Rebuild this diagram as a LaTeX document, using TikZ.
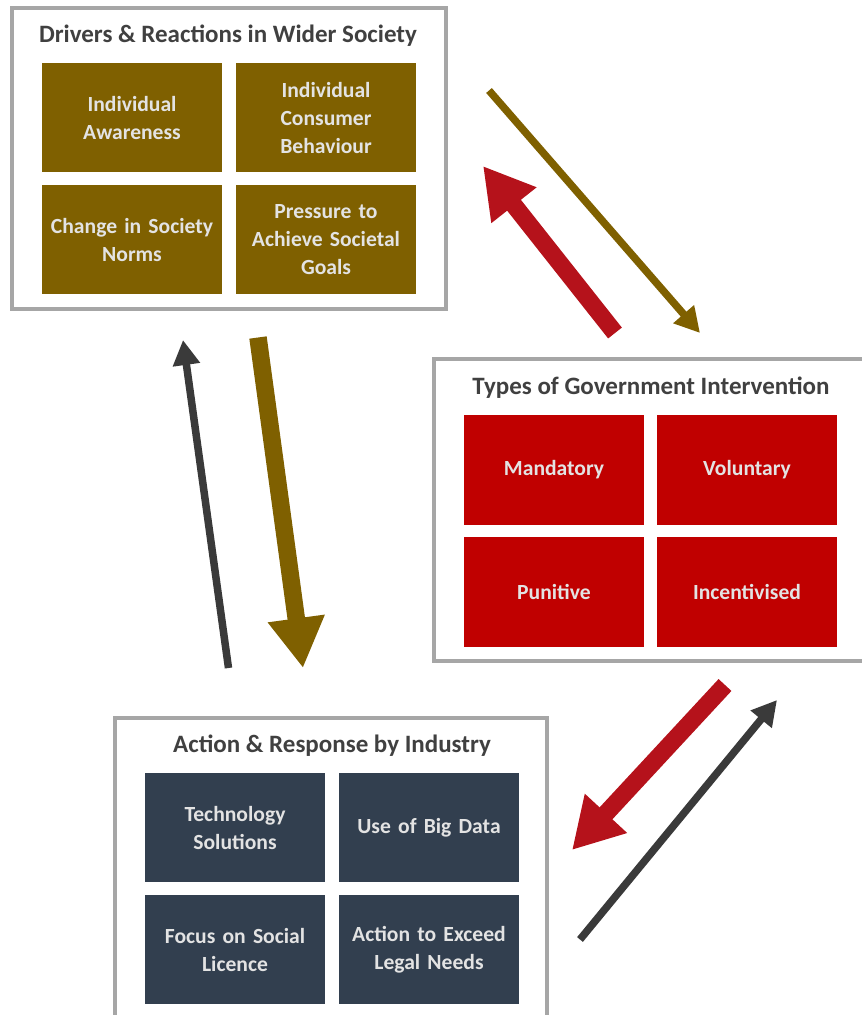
\documentclass[tikz,border=0pt]{standalone}
\usepackage{fontspec}
\setmainfont{Carlito}
\usetikzlibrary{arrows.meta}
\definecolor{olivebrown}{HTML}{7F6000}
\definecolor{govred}{HTML}{C00000}
\definecolor{arrowred}{HTML}{B5121B}
\definecolor{slatenavy}{HTML}{323F4F}
\definecolor{framegray}{HTML}{A6A6A6}
\definecolor{darkarrow}{HTML}{3A3A3A}
\definecolor{tiletext}{HTML}{E3E3E3}
\definecolor{titletext}{HTML}{404040}
\tikzset{
  frame/.style={draw=framegray, line width=4pt, fill=white, inner sep=0pt},
  tile/.style={minimum width=180pt, minimum height=109pt, inner sep=0pt,
    text width=178pt, align=center, text=tiletext,
    font=\fontsize{21.6}{28}\selectfont\bfseries},
  boxtitle/.style={text=titletext, inner sep=0pt,
    font=\fontsize{25}{28}\selectfont\bfseries},
  thinarrow/.style={line width=7.5pt, -{Triangle[width=26pt,length=25pt]}},
  thickarrow/.style={line width=17.5pt, -{Triangle[width=54pt,length=50pt]}},
}
\begin{document}
\begin{tikzpicture}[x=1pt,y=-1pt]
  \useasboundingbox (0,0) rectangle (862,1015);
  % the three panels
  \node[frame, minimum width=434pt, minimum height=300.5pt] (society) at (228.75,158.25) {};
  \node[frame, minimum width=430.5pt, minimum height=302pt] (govt) at (648.75,509.5) {};
  \node[frame, minimum width=432.3pt, minimum height=302pt] (industry) at (330.85,869) {};
  \node[boxtitle] (society-t) at (228,35.5) {Drivers \& Reactions in Wider Society};
  \node[boxtitle] (govt-t) at (651,387.5) {Types of Government Intervention};
  \node[boxtitle] (industry-t) at (332,745.5) {Action \& Response by Industry};
  % society tiles
  \begin{scope}[every node/.style={tile, fill=olivebrown}]
    \node (awareness) at (132,117.5) {Individual\\Awareness};
    \node (consumer) at (326,117.5) {Individual\\Consumer\\Behaviour};
    \node (norms) at (132,239.5) {Change in Society\\Norms};
    \node (goals) at (326,239.5) {Pressure to\\Achieve Societal\\Goals};
  \end{scope}
  % government tiles
  \begin{scope}[every node/.style={tile, fill=govred, minimum height=110pt}]
    \node (mandatory) at (554,469.5) {Mandatory};
    \node (voluntary) at (747,469.5) {Voluntary};
    \node (punitive) at (554,591.5) {Punitive};
    \node (incentive) at (747,591.5) {Incentivised};
  \end{scope}
  % industry tiles
  \begin{scope}[every node/.style={tile, fill=slatenavy}]
    \node (tech) at (235,827.5) {Technology\\Solutions};
    \node (bigdata) at (429,827.5) {Use of Big Data};
    \node (licence) at (235,949.5) {Focus on Social\\Licence};
    \node (exceed) at (429,949.5) {Action to Exceed\\Legal Needs};
  \end{scope}
  % arrow ends
  \coordinate (soc-gov-a) at (489,90.5);
  \coordinate (soc-gov-b) at (700,333);
  \coordinate (gov-soc-a) at (615,333);
  \coordinate (gov-soc-b) at (483,166);
  \coordinate (soc-ind-a) at (258,337.5);
  \coordinate (soc-ind-b) at (303,668);
  \coordinate (ind-soc-a) at (228.5,668);
  \coordinate (ind-soc-b) at (183,340);
  \coordinate (gov-ind-a) at (725,685);
  \coordinate (gov-ind-b) at (572,850);
  \coordinate (ind-gov-a) at (580,939.5);
  \coordinate (ind-gov-b) at (777,700);
  \draw[thinarrow, olivebrown] (soc-gov-a) -- (soc-gov-b);
  \draw[thickarrow, arrowred] (gov-soc-a) -- (gov-soc-b);
  \draw[thickarrow, olivebrown] (soc-ind-a) -- (soc-ind-b);
  \draw[thinarrow, darkarrow] (ind-soc-a) -- (ind-soc-b);
  \draw[thickarrow, arrowred] (gov-ind-a) -- (gov-ind-b);
  \draw[thinarrow, darkarrow] (ind-gov-a) -- (ind-gov-b);
\end{tikzpicture}
\end{document}
